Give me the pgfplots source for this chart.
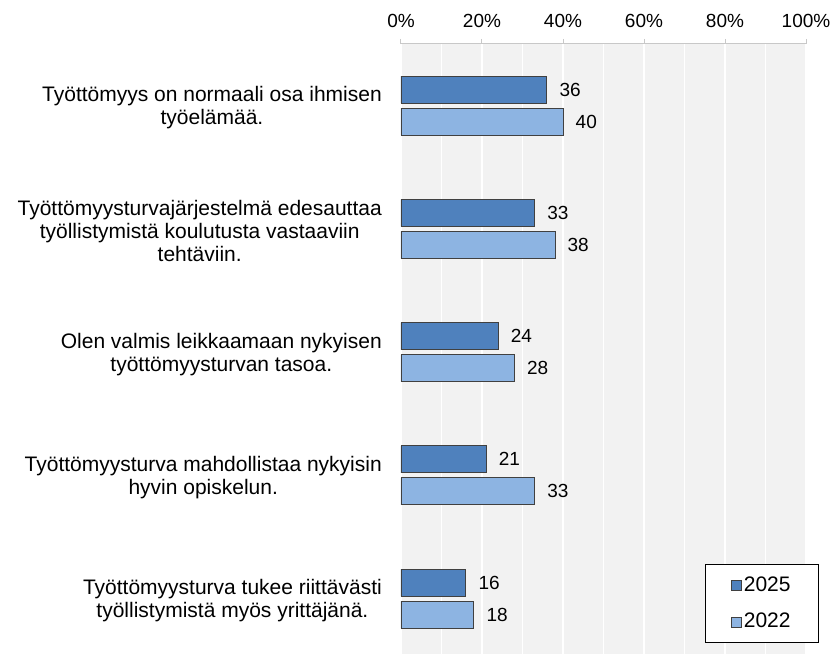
\documentclass[border=0pt]{standalone}
\usepackage{fontspec}
\setmainfont{Liberation Sans}
\usepackage{pgfplots}
\pgfplotsset{compat=1.18}
\definecolor{c25}{RGB}{79,129,189}
\definecolor{c22}{RGB}{141,180,226}
\definecolor{bg}{RGB}{242,242,242}
\definecolor{axgray}{RGB}{200,200,200}
\begin{document}
\fontsize{19}{22}\selectfont
\begin{tikzpicture}[x=1pt,y=1pt]
\useasboundingbox (0,0) rectangle (833,654);
\begin{axis}[
  at={(401pt,610pt)}, anchor=north west,
  scale only axis, width=405pt, height=610pt,
  xmin=0, xmax=100, ymin=-0.45, ymax=4.5,
  /pgf/number format/assume math mode=true,
  axis background/.style={fill=bg},
  axis line style={draw=none},
  xtick={0,20,...,100}, minor xtick={10,30,...,90},
  xticklabels={0\%,20\%,40\%,60\%,80\%,100\%},
  xtick pos=upper, xticklabel pos=upper,
  xticklabel style={yshift=5pt},
  tick align=outside, major tick length=5pt, minor tick length=0pt,
  xtick style={axgray, line width=1pt},
  xmajorgrids, xminorgrids,
  major grid style={white, line width=1.5pt},
  minor grid style={white, line width=1.5pt},
  ytick={0,1,2,3,4}, ytick style={draw=none},
  yticklabels={
    {Työttömyysturva tukee riittävästi\\työllistymistä myös yrittäjänä.},
    {Työttömyysturva mahdollistaa nykyisin\\hyvin opiskelun.},
    {Olen valmis leikkaamaan nykyisen\\työttömyysturvan tasoa.},
    {Työttömyysturvajärjestelmä edesauttaa\\työllistymistä koulutusta vastaaviin\\tehtäviin.},
    {Työttömyys on normaali osa ihmisen\\työelämää.}},
  yticklabel style={align=center, inner xsep=0pt, xshift=-14pt, yshift=-2pt,
    font=\fontsize{21}{23}\selectfont},
  point meta=x,
  nodes near coords,
  nodes near coords style={anchor=west, xshift=6pt, black},
  legend style={at={(1.032,0.018)}, anchor=south east, draw=black, fill=white,
    line width=0.8pt, inner xsep=26pt, inner ysep=10pt, row sep=15pt,
    font=\fontsize{21}{22}\selectfont,
    nodes={inner xsep=2pt, line width=0.8pt}},
  legend cell align=left,
  legend image code/.code={\draw[#1, line width=0.6pt] (0pt,-5pt) rectangle (10pt,5pt);},
]
\addplot[xbar, bar width=27pt, bar shift=16pt, fill=c25, draw=black!75, line width=0.8pt,
  every node near coord/.append style={yshift=16pt}]
  coordinates {(16,0) (21,1) (24,2) (33,3) (36,4)};
\addlegendentry{2025}
\addplot[xbar, bar width=27pt, bar shift=-16pt, fill=c22, draw=black!75, line width=0.8pt,
  every node near coord/.append style={yshift=-16pt}]
  coordinates {(18,0) (33,1) (28,2) (38,3) (40,4)};
\addlegendentry{2022}
\draw[axgray, line width=1pt] (rel axis cs:0,1) -- (rel axis cs:1,1);
\end{axis}
\end{tikzpicture}
\end{document}
